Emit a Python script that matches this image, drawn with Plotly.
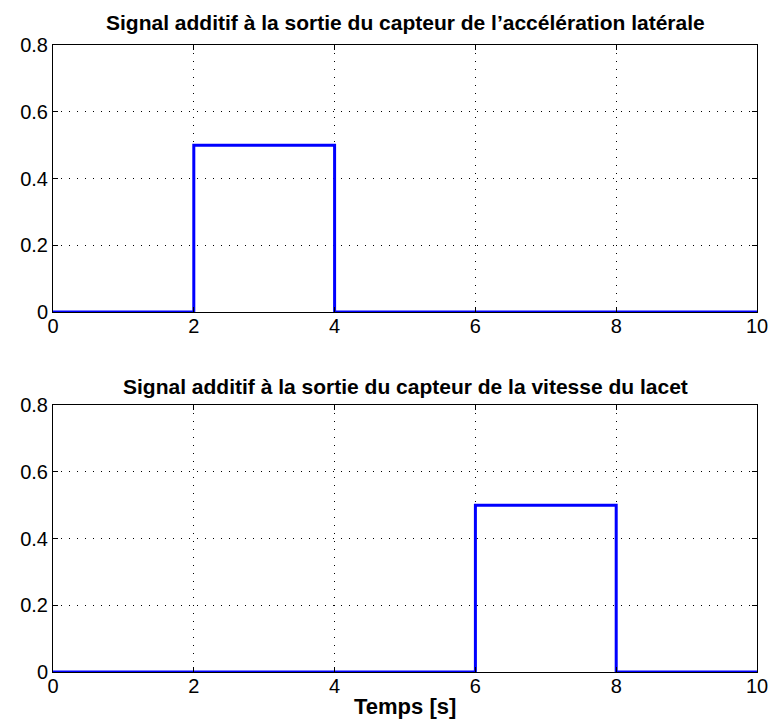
import plotly.graph_objects as go
from plotly.subplots import make_subplots

# Data
t_top = [0, 2, 4, 10]
y_top = [0, 0.5, 0, 0]
t_bot = [0, 6, 8, 10]
y_bot = [0, 0.5, 0, 0]
x_ticks = [0, 2, 4, 6, 8, 10]
y_ticks = [0, 0.2, 0.4, 0.6, 0.8]
y_ticktext = ["0", "0.2", "0.4", "0.6", "0.8"]
title_top = "Signal additif à la sortie du capteur de l’accélération latérale"
title_bot = "Signal additif à la sortie du capteur de la vitesse du lacet"
xlabel = "Temps [s]"

W, H = 773, 727
# target pixel positions
left_px, right_px = 53, 757
top1, bot1 = 45, 312
top2, bot2 = 405, 672

ml = left_px
mr = W - right_px
mt = top1
mb = H - bot2
ph = H - mt - mb

def py(pix):
    return (H - mb - pix) / ph

fig = make_subplots(rows=2, cols=1)
fig.add_trace(go.Scatter(x=t_top, y=y_top, mode="lines", hoverinfo="skip",
                         line=dict(color="#0000ff", width=3, shape="hv")), row=1, col=1)
fig.add_trace(go.Scatter(x=t_bot, y=y_bot, mode="lines", hoverinfo="skip",
                         line=dict(color="#0000ff", width=3, shape="hv")), row=2, col=1)

font = "Liberation Sans, Arial, sans-serif"
axis_common = dict(showline=True, linecolor="black", linewidth=1, mirror="ticks",
                   ticks="inside", ticklen=5, tickcolor="black",
                   showgrid=True, gridcolor="black", gridwidth=1, griddash="1px,7px",
                   zeroline=False, ticklabeloverflow="allow", automargin=False,
                   tickfont=dict(family=font, size=20, color="black"))

fig.update_layout(
    width=W, height=H, margin=dict(l=ml, r=mr, t=mt, b=mb, autoexpand=False),
    plot_bgcolor="white", paper_bgcolor="white", showlegend=False,
    xaxis=dict(domain=[0, 1], range=[0, 10], tickvals=x_ticks, ticklabelstandoff=-4,
               ticktext=[str(v) for v in x_ticks], **axis_common),
    yaxis=dict(domain=[py(bot1), py(top1)], range=[0, 0.8], tickvals=y_ticks,
               ticktext=y_ticktext, **axis_common),
    xaxis2=dict(domain=[0, 1], range=[0, 10], tickvals=x_ticks, ticklabelstandoff=-4,
                ticktext=[str(v) for v in x_ticks], **axis_common),
    yaxis2=dict(domain=[py(bot2), py(top2)], range=[0, 0.8], tickvals=y_ticks,
                ticktext=y_ticktext, **axis_common),
)

ann_font = dict(family=font, size=21, color="black")
fig.add_annotation(text="<b>" + title_top + "</b>", xref="paper", yref="paper", x=0.5, y=py(22),
                   showarrow=False, font=ann_font, xanchor="center", yanchor="middle")
fig.add_annotation(text="<b>" + title_bot + "</b>", xref="paper", yref="paper", x=0.5, y=py(386),
                   showarrow=False, font=ann_font, xanchor="center", yanchor="middle")
fig.add_annotation(text="<b>" + xlabel + "</b>", xref="paper", yref="paper", x=0.5, y=py(706),
                   showarrow=False, font=dict(family=font, size=22, color="black"),
                   xanchor="center", yanchor="middle")

fig.write_html("out.html", config={"displayModeBar": False},
               post_script="document.body.style.margin='0';document.body.style.overflow='hidden';")
